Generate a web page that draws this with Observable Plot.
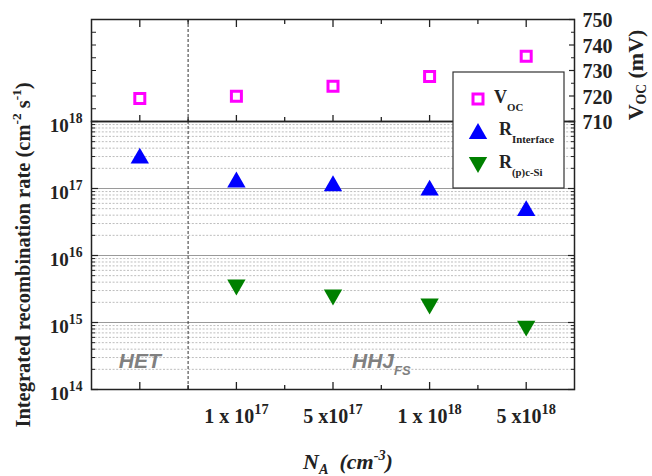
<!DOCTYPE html>
<html><head><meta charset="utf-8">
<script src="https://cdn.jsdelivr.net/npm/d3@7"></script>
<script src="https://cdn.jsdelivr.net/npm/@observablehq/plot@0.6"></script>
<style>
body{margin:0;background:#fff;}
#chart{position:relative;width:652px;height:476px;}
#chart svg{position:absolute;left:0;top:0;}
</style></head><body><div id="chart"></div>
<script>
// ---- data ----
const categories = ["HET", "1 x 10^{17}", "5 x10^{17}", "1 x 10^{18}", "5 x10^{18}"];
const vocValues = [719.0, 719.9, 723.8, 727.6, 735.6];           // mV
const rInterface = [3.1e17, 1.36e17, 1.2e17, 1.03e17, 5.1e16];   // cm^-2 s^-1
const rCSi = [null, 3.33e15, 2.36e15, 1.73e15, 8.1e14];          // cm^-2 s^-1
const vocTickValues = [710, 720, 730, 740, 750];
const vocMinorTicks = [715, 725, 735, 745];
const rateTickValues = [1e14, 1e15, 1e16, 1e17, 1e18];
const regionNames = ["HET", "HHJ_{FS}"];
const regionPos = [0, 2.5];
const regionY = [2.06e14, 2.06e14];
const seriesNames = ["V_{OC}", "R_{Interface}", "R_{(p)c-Si}"];
const seriesColors = ["#ff00ff", "#0000ff", "#008000"];

// ---- derived tables ----
const idx = categories.map((_, i) => i);
const minorRate = [];
for (let e = 14; e < 18; e++) for (let d = 2; d <= 9; d++) minorRate.push(d * Math.pow(10, e));
const vocRows = vocValues.map((v, i) => ({i, v}));
const intRows = rInterface.map((v, i) => ({i, v}));
const csiRows = rCSi.map((v, i) => ({i, v})).filter(d => d.v != null);
const regionRows = regionNames.map((t, k) => ({t, x: regionPos[k], y: regionY[k]}));

const triUp = {draw(ctx, size) {const r = Math.sqrt(size / Math.PI), hw = r * 1.37, hh = hw * Math.sqrt(3) / 2;
  ctx.moveTo(0, -hh); ctx.lineTo(hw, hh); ctx.lineTo(-hw, hh); ctx.closePath();}};
const triDown = {draw(ctx, size) {const r = Math.sqrt(size / Math.PI), hw = r * 1.37, hh = hw * Math.sqrt(3) / 2;
  ctx.moveTo(0, hh); ctx.lineTo(hw, -hh); ctx.lineTo(-hw, -hh); ctx.closePath();}};

const serif = "'Liberation Serif','Times New Roman',serif";
const W = 652, H = 476, ML = 91, MR = 78, TOP = 19, MID = 121, BOT = 389;
const ink = "#222";
const xMajor = [0, 1, 2, 3, 4], xMinor = [0.5, 1.5, 2.5, 3.5];

const lower = Plot.plot({
  width: W, height: H, marginTop: MID, marginBottom: H - BOT, marginLeft: ML, marginRight: MR,
  style: {fontFamily: serif, background: "white", color: ink},
  x: {type: "linear", domain: [-0.5, 4.5], axis: null},
  y: {type: "log", domain: [1e14, 1e18], axis: null},
  marks: [
    Plot.ruleY(minorRate, {stroke: "#bdbdbd", strokeDasharray: "2,1.6", strokeWidth: 1}),
    Plot.ruleY(rateTickValues.slice(1, 4), {stroke: "#9a9a9a", strokeWidth: 1.2}),
    Plot.ruleX([0.5], {stroke: "#333", strokeDasharray: "3,2", strokeWidth: 1}),
    Plot.axisX({anchor: "bottom", ticks: xMajor, tickSize: -7, fill: "none", label: null, strokeWidth: 1.3}),
    Plot.axisX({anchor: "bottom", ticks: xMinor, tickSize: -4, fill: "none", label: null, strokeWidth: 1.3}),
    Plot.axisX({anchor: "bottom", ticks: idx.slice(1), tickSize: 0, tickPadding: 19, tickFormat: i => categories[i],
      fontSize: 20, fontWeight: "bold", label: null}),
    Plot.axisY({anchor: "left", ticks: rateTickValues, tickSize: -7, fill: "none", label: null, strokeWidth: 1.2}),
    Plot.axisY({anchor: "left", ticks: minorRate, tickSize: -4, fill: "none", label: null}),
    Plot.axisY({anchor: "right", ticks: rateTickValues, tickSize: -7, fill: "none", label: null, strokeWidth: 1.2}),
    Plot.axisY({anchor: "right", ticks: minorRate, tickSize: -4, fill: "none", label: null}),
    Plot.axisY({anchor: "left", ticks: rateTickValues, tickSize: 0, tickPadding: 9, dy: 4,
      tickFormat: v => "10^{" + Math.round(Math.log10(v)) + "}", fontSize: 19, fontWeight: "bold", label: null}),
    Plot.text(regionRows, {x: "x", y: "y", text: "t", lineAnchor: "bottom", fill: "#808080",
      fontFamily: "'Liberation Sans',Arial,sans-serif", fontSize: 21, fontWeight: "bold", fontStyle: "italic"}),
    Plot.frame({stroke: ink, strokeWidth: 1.5}),
    Plot.dot(intRows, {x: "i", y: "v", symbol: triUp, r: 6.7, fill: seriesColors[1], stroke: null}),
    Plot.dot(csiRows, {x: "i", y: "v", symbol: triDown, r: 6.7, fill: seriesColors[2], stroke: null})
  ]
});

const upper = Plot.plot({
  width: W, height: MID, marginTop: TOP, marginBottom: 0, marginLeft: ML, marginRight: MR,
  style: {fontFamily: serif, background: "transparent", overflow: "visible", color: ink},
  x: {type: "linear", domain: [-0.5, 4.5], axis: null},
  y: {type: "linear", domain: [710, 750], axis: null},
  marks: [
    Plot.ruleX([0.5], {stroke: "#333", strokeDasharray: "3,2", strokeWidth: 1}),
    Plot.axisX({anchor: "top", ticks: xMajor, tickSize: -7, fill: "none", label: null, strokeWidth: 1.3}),
    Plot.axisX({anchor: "top", ticks: xMinor, tickSize: -4, fill: "none", label: null, strokeWidth: 1.3}),
    Plot.axisX({anchor: "bottom", ticks: xMajor, tickSize: -6, fill: "none", label: null, strokeWidth: 1.3}),
    Plot.axisX({anchor: "bottom", ticks: xMinor, tickSize: -4, fill: "none", label: null, strokeWidth: 1.3}),
    Plot.axisY({anchor: "left", ticks: vocTickValues.concat(vocMinorTicks), tickSize: -5, fill: "none", label: null}),
    Plot.axisY({anchor: "right", ticks: vocTickValues, tickSize: -6, fill: "none", label: null, strokeWidth: 1.2}),
    Plot.axisY({anchor: "right", ticks: vocMinorTicks, tickSize: -4, fill: "none", label: null}),
    Plot.axisY({anchor: "right", ticks: vocTickValues, tickSize: 0, tickPadding: 8, dy: 1.5,
      fontSize: 20, fontWeight: "bold", label: null}),
    Plot.frame({stroke: ink, strokeWidth: 1.5}),
    Plot.dot(vocRows, {x: "i", y: "v", symbol: "square", r: 5.64, stroke: seriesColors[0], strokeWidth: 3, fill: "white"})
  ]
});

const chart = document.getElementById("chart");
chart.appendChild(lower);
chart.appendChild(upper);

// rich text: ^{..} superscript, _{..} subscript
function rich(el, str, fs, o = {}) {
  const sc = o.scale ?? 0.7, up = (o.up ?? 0.42) * fs, down = (o.down ?? 0.3) * fs;
  const sel = d3.select(el); sel.text("");
  const re = /([\^_])\{([^}]*)\}/g; let last = 0, m; const parts = [];
  while ((m = re.exec(str))) {
    if (m.index > last) parts.push({t: str.slice(last, m.index), k: ""});
    parts.push({t: m[2], k: m[1]}); last = re.lastIndex;
  }
  if (last < str.length) parts.push({t: str.slice(last), k: ""});
  let cur = 0;
  parts.forEach(p => {
    const target = p.k === "^" ? -up : p.k === "_" ? down : 0;
    const ts = sel.append("tspan").text(p.t);
    if (target !== cur) ts.attr("dy", target - cur);
    if (p.k) ts.attr("font-size", fs * sc);
    cur = target;
  });
}
[lower, upper].forEach(svg => {
  d3.select(svg).selectAll("text").each(function () {
    const s = this.textContent;
    if (/[\^_]\{/.test(s)) {
      const fs = parseFloat(getComputedStyle(this).fontSize);
      const isHHJ = s.startsWith("HHJ");
      rich(this, s, fs, isHHJ ? {scale: 0.62, down: 0.33} : {scale: 0.72, up: 0.43});
    }
  });
});

// axis titles
const L = d3.select(lower);
const t1 = L.append("text").attr("transform", "translate(30,255) rotate(-90)").attr("text-anchor", "middle")
  .attr("font-family", serif).attr("font-size", 20.5).attr("font-weight", "bold").attr("fill", ink).node();
rich(t1, "Integrated recombination rate (cm^{-2} s^{-1})", 20.5, {scale: 0.65, up: 0.45});
const t2 = L.append("text").attr("transform", "translate(643,75) rotate(-90)").attr("text-anchor", "middle")
  .attr("font-family", serif).attr("font-size", 22).attr("font-weight", "bold").attr("fill", ink).node();
rich(t2, "V_{OC} (mV)", 22, {scale: 0.62, down: 0.15});
const t3 = L.append("text").attr("x", 348).attr("y", 469).attr("text-anchor", "middle")
  .attr("font-family", serif).attr("font-size", 22).attr("font-weight", "bold").attr("font-style", "italic").attr("fill", ink).node();
rich(t3, "N_{A}\u00a0\u00a0(cm^{-3})", 22, {scale: 0.65, up: 0.42, down: 0.22});

// legend
const U = d3.select(upper);
const lg = U.append("g").attr("text-anchor", "start");
lg.append("rect").attr("x", 453).attr("y", 72).attr("width", 111).attr("height", 116)
  .attr("fill", "white").attr("stroke", "#333").attr("stroke-width", 1.2);
const sym = [d3.symbol(d3.symbolSquare, Math.PI * 5.64 * 5.64)(), d3.symbol(triUp, Math.PI * 6.7 * 6.7)(), d3.symbol(triDown, Math.PI * 6.7 * 6.7)()];
const ly = [99, 131, 165], lx = [494, 499, 499], lb = [103, 135, 168];
seriesNames.forEach((n, k) => {
  const p = lg.append("path").attr("d", sym[k]).attr("transform", `translate(478,${ly[k]})`);
  if (k === 0) p.attr("fill", "white").attr("stroke", seriesColors[0]).attr("stroke-width", 3);
  else p.attr("fill", seriesColors[k]);
  const t = lg.append("text").attr("x", lx[k]).attr("y", lb[k]).attr("text-anchor", "start").attr("font-family", serif)
    .attr("font-size", 18).attr("font-weight", "bold").attr("fill", ink).node();
  rich(t, n, 18, {scale: 0.6, down: 0.42});
});
</script></body></html>
